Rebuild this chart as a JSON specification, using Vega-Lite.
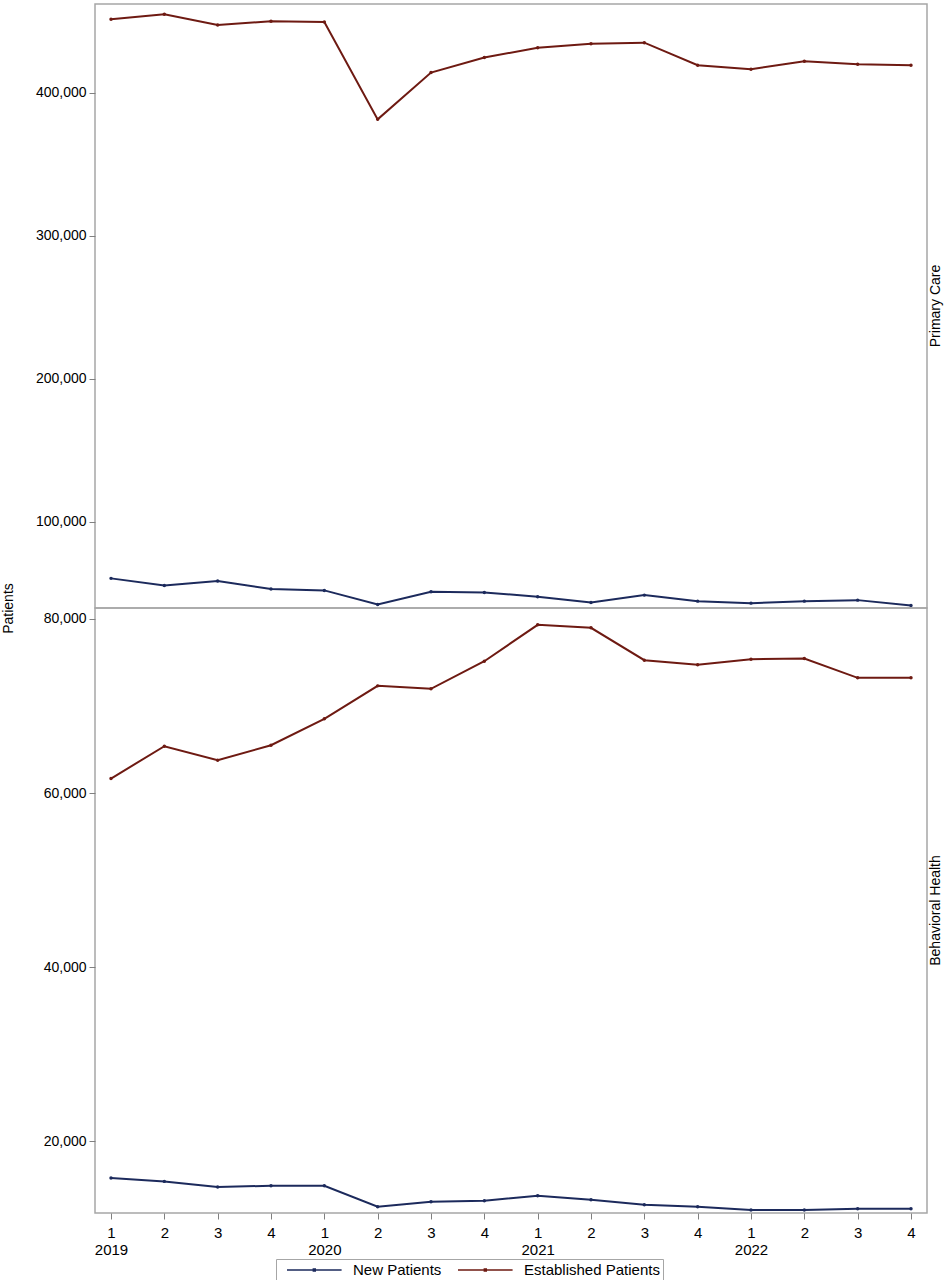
{
  "$schema": "https://vega.github.io/schema/vega-lite/v6.json",
  "padding": {"left": 0, "top": 3, "right": 0, "bottom": 0},
  "background": "white",
  "datasets": {
    "rows": [
      {"panel": "Primary Care", "period": "2019-1", "series": "Established Patients", "value": 451200},
      {"panel": "Primary Care", "period": "2019-2", "series": "Established Patients", "value": 454700},
      {"panel": "Primary Care", "period": "2019-3", "series": "Established Patients", "value": 447200},
      {"panel": "Primary Care", "period": "2019-4", "series": "Established Patients", "value": 449800},
      {"panel": "Primary Care", "period": "2020-1", "series": "Established Patients", "value": 449300},
      {"panel": "Primary Care", "period": "2020-2", "series": "Established Patients", "value": 381300},
      {"panel": "Primary Care", "period": "2020-3", "series": "Established Patients", "value": 414000},
      {"panel": "Primary Care", "period": "2020-4", "series": "Established Patients", "value": 424500},
      {"panel": "Primary Care", "period": "2021-1", "series": "Established Patients", "value": 431400},
      {"panel": "Primary Care", "period": "2021-2", "series": "Established Patients", "value": 434200},
      {"panel": "Primary Care", "period": "2021-3", "series": "Established Patients", "value": 434900},
      {"panel": "Primary Care", "period": "2021-4", "series": "Established Patients", "value": 419100},
      {"panel": "Primary Care", "period": "2022-1", "series": "Established Patients", "value": 416300},
      {"panel": "Primary Care", "period": "2022-2", "series": "Established Patients", "value": 421900},
      {"panel": "Primary Care", "period": "2022-3", "series": "Established Patients", "value": 419800},
      {"panel": "Primary Care", "period": "2022-4", "series": "Established Patients", "value": 419100},
      {"panel": "Primary Care", "period": "2019-1", "series": "New Patients", "value": 60600},
      {"panel": "Primary Care", "period": "2019-2", "series": "New Patients", "value": 55600},
      {"panel": "Primary Care", "period": "2019-3", "series": "New Patients", "value": 58700},
      {"panel": "Primary Care", "period": "2019-4", "series": "New Patients", "value": 53100},
      {"panel": "Primary Care", "period": "2020-1", "series": "New Patients", "value": 52200},
      {"panel": "Primary Care", "period": "2020-2", "series": "New Patients", "value": 42400},
      {"panel": "Primary Care", "period": "2020-3", "series": "New Patients", "value": 51300},
      {"panel": "Primary Care", "period": "2020-4", "series": "New Patients", "value": 50800},
      {"panel": "Primary Care", "period": "2021-1", "series": "New Patients", "value": 47800},
      {"panel": "Primary Care", "period": "2021-2", "series": "New Patients", "value": 43800},
      {"panel": "Primary Care", "period": "2021-3", "series": "New Patients", "value": 48900},
      {"panel": "Primary Care", "period": "2021-4", "series": "New Patients", "value": 44700},
      {"panel": "Primary Care", "period": "2022-1", "series": "New Patients", "value": 43300},
      {"panel": "Primary Care", "period": "2022-2", "series": "New Patients", "value": 44700},
      {"panel": "Primary Care", "period": "2022-3", "series": "New Patients", "value": 45400},
      {"panel": "Primary Care", "period": "2022-4", "series": "New Patients", "value": 41700},
      {"panel": "Behavioral Health", "period": "2019-1", "series": "Established Patients", "value": 61660},
      {"panel": "Behavioral Health", "period": "2019-2", "series": "Established Patients", "value": 65370},
      {"panel": "Behavioral Health", "period": "2019-3", "series": "Established Patients", "value": 63760},
      {"panel": "Behavioral Health", "period": "2019-4", "series": "Established Patients", "value": 65480},
      {"panel": "Behavioral Health", "period": "2020-1", "series": "Established Patients", "value": 68520},
      {"panel": "Behavioral Health", "period": "2020-2", "series": "Established Patients", "value": 72300},
      {"panel": "Behavioral Health", "period": "2020-3", "series": "Established Patients", "value": 71960},
      {"panel": "Behavioral Health", "period": "2020-4", "series": "Established Patients", "value": 75130},
      {"panel": "Behavioral Health", "period": "2021-1", "series": "Established Patients", "value": 79310},
      {"panel": "Behavioral Health", "period": "2021-2", "series": "Established Patients", "value": 78970},
      {"panel": "Behavioral Health", "period": "2021-3", "series": "Established Patients", "value": 75250},
      {"panel": "Behavioral Health", "period": "2021-4", "series": "Established Patients", "value": 74720},
      {"panel": "Behavioral Health", "period": "2022-1", "series": "Established Patients", "value": 75360},
      {"panel": "Behavioral Health", "period": "2022-2", "series": "Established Patients", "value": 75440},
      {"panel": "Behavioral Health", "period": "2022-3", "series": "Established Patients", "value": 73220},
      {"panel": "Behavioral Health", "period": "2022-4", "series": "Established Patients", "value": 73220},
      {"panel": "Behavioral Health", "period": "2019-1", "series": "New Patients", "value": 15800},
      {"panel": "Behavioral Health", "period": "2019-2", "series": "New Patients", "value": 15410},
      {"panel": "Behavioral Health", "period": "2019-3", "series": "New Patients", "value": 14760},
      {"panel": "Behavioral Health", "period": "2019-4", "series": "New Patients", "value": 14910},
      {"panel": "Behavioral Health", "period": "2020-1", "series": "New Patients", "value": 14910},
      {"panel": "Behavioral Health", "period": "2020-2", "series": "New Patients", "value": 12500},
      {"panel": "Behavioral Health", "period": "2020-3", "series": "New Patients", "value": 13070},
      {"panel": "Behavioral Health", "period": "2020-4", "series": "New Patients", "value": 13190},
      {"panel": "Behavioral Health", "period": "2021-1", "series": "New Patients", "value": 13760},
      {"panel": "Behavioral Health", "period": "2021-2", "series": "New Patients", "value": 13300},
      {"panel": "Behavioral Health", "period": "2021-3", "series": "New Patients", "value": 12730},
      {"panel": "Behavioral Health", "period": "2021-4", "series": "New Patients", "value": 12500},
      {"panel": "Behavioral Health", "period": "2022-1", "series": "New Patients", "value": 12120},
      {"panel": "Behavioral Health", "period": "2022-2", "series": "New Patients", "value": 12120},
      {"panel": "Behavioral Health", "period": "2022-3", "series": "New Patients", "value": 12270},
      {"panel": "Behavioral Health", "period": "2022-4", "series": "New Patients", "value": 12270}
    ]
  },
  "data": {"name": "rows"},
  "spacing": 0,
  "bounds": "flush",
  "resolve": {"legend": {"color": "independent"}},
  "config": {
    "font": "Liberation Sans",
    "view": {"stroke": "#a6a6a6", "strokeWidth": 1.5},
    "axis": {
      "grid": false,
      "domain": false,
      "tickColor": "#808080",
      "tickSize": 6,
      "labelFontSize": 14,
      "labelColor": "#000000",
      "titleFontSize": 14,
      "titleFontWeight": "normal",
      "titleColor": "#000000",
      "labelFont": "Liberation Sans",
      "titleFont": "Liberation Sans"
    },
    "title": {"fontSize": 14, "fontWeight": "normal", "font": "Liberation Sans", "color": "#000000"},
    "legend": {"labelFontSize": 15, "labelFont": "Liberation Sans"}
  },
  "vconcat": [
    {
      "width": 832,
      "height": 604,
      "title": {"text": "Primary Care", "orient": "right", "angle": 270, "baseline": "top", "anchor": "middle", "frame": "group", "offset": -12},
      "transform": [{"filter": "datum.panel == 'Primary Care'"}],
      "encoding": {
        "x": {"field": "period", "type": "ordinal", "scale": {"type": "point", "padding": 0.3}, "axis": null},
        "y": {
          "field": "value", "type": "quantitative",
          "scale": {"domain": [39900, 461900], "nice": false, "zero": false},
          "axis": {"values": [100000, 200000, 300000, 400000], "format": ",d", "title": "Patients", "titleY": 604, "titlePadding": 20, "labelPadding": 3}
        },
        "color": {
          "field": "series", "type": "nominal",
          "scale": {"domain": ["New Patients", "Established Patients"], "range": ["#1c2a5c", "#6e1a12"]},
          "legend": {
            "title": null, "orient": "none", "legendX": 181, "legendY": 1255, "direction": "horizontal",
            "symbolType": "M0,0H7.8M3.75,-0.15H4.05V0.15H3.75Z", "symbolSize": 196, "symbolStrokeWidth": 1.3,
            "symbolFillColor": "transparent",
            "strokeColor": "#a6a6a6", "padding": 3, "columnPadding": 8, "labelOffset": 58
          }
        }
      },
      "layer": [
        {"mark": {"type": "line", "strokeWidth": 2}},
        {"mark": {"type": "point", "filled": true, "size": 12, "opacity": 1}}
      ]
    },
    {
      "width": 832,
      "height": 605,
      "title": {"text": "Behavioral Health", "orient": "right", "angle": 270, "baseline": "top", "anchor": "middle", "frame": "group", "offset": -12},
      "transform": [{"filter": "datum.panel == 'Behavioral Health'"}],
      "encoding": {
        "x": {
          "field": "period", "type": "ordinal", "scale": {"type": "point", "padding": 0.3},
          "axis": {
            "title": null, "labelAngle": 0, "labelPadding": 6, "labelFontSize": 15,
            "labelExpr": "split(datum.value, '-')[1] == '1' ? [split(datum.value, '-')[1], split(datum.value, '-')[0]] : split(datum.value, '-')[1]"
          }
        },
        "y": {
          "field": "value", "type": "quantitative",
          "scale": {"domain": [11780, 81240], "nice": false, "zero": false},
          "axis": {"values": [20000, 40000, 60000, 80000], "format": ",d", "title": null, "labelPadding": 3}
        },
        "color": {
          "field": "series", "type": "nominal",
          "scale": {"domain": ["New Patients", "Established Patients"], "range": ["#1c2a5c", "#6e1a12"]},
          "legend": null
        }
      },
      "layer": [
        {"mark": {"type": "line", "strokeWidth": 2}},
        {"mark": {"type": "point", "filled": true, "size": 12, "opacity": 1}}
      ]
    }
  ]
}
